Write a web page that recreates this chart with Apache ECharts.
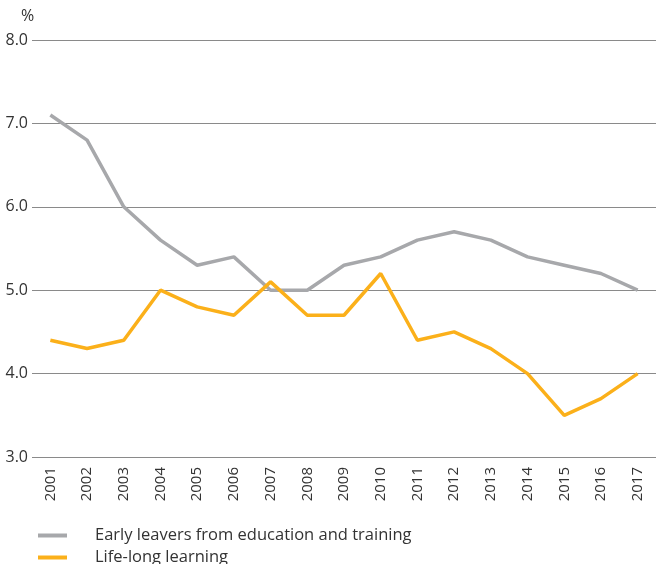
<!DOCTYPE html>
<html>
<head>
<meta charset="utf-8">
<script src="https://cdn.jsdelivr.net/npm/echarts@6/dist/echarts.min.js"></script>
<style>
  html, body { margin: 0; padding: 0; background: #fff; }
  #chart { width: 656px; height: 564px; }
</style>
</head>
<body>
<div id="chart"></div>
<script>
var years = ['2001', '2002', '2003', '2004', '2005', '2006', '2007', '2008', '2009',
             '2010', '2011', '2012', '2013', '2014', '2015', '2016', '2017'];
var earlyLeavers = [7.1, 6.8, 6.0, 5.6, 5.3, 5.4, 5.0, 5.0, 5.3, 5.4, 5.6, 5.7, 5.6, 5.4, 5.3, 5.2, 5.0];
var lifeLong = [4.4, 4.3, 4.4, 5.0, 4.8, 4.7, 5.1, 4.7, 4.7, 5.2, 4.4, 4.5, 4.3, 4.0, 3.5, 3.7, 4.0];
var seriesNames = ['Early leavers from education and training', 'Life-long learning'];

var fontName = '"Open Sans", "Noto Sans", sans-serif';
var myChart = echarts.init(document.getElementById('chart'));

var option = {
    animation: false,
    textStyle: { fontFamily: fontName },
    grid: { left: 32, right: 0, top: 40, bottom: 107 },
    legend: {
        orient: 'vertical',
        left: 33,
        bottom: -7,
        itemWidth: 29,
        itemHeight: 4,
        itemGap: 5,
        icon: 'rect',
        textStyle: { fontSize: 16.5, color: '#333', padding: [0, 0, 0, 23], fontFamily: fontName },
        data: seriesNames
    },
    graphic: [{
        type: 'text',
        left: 21,
        top: 8,
        style: { text: '%', fontSize: 16, fill: '#333', fontFamily: fontName }
    }],
    xAxis: {
        type: 'category',
        data: years,
        boundaryGap: true,
        axisLine: { show: false },
        axisTick: { show: false },
        axisLabel: { rotate: 90, fontSize: 15, color: '#333', margin: 10 }
    },
    yAxis: {
        type: 'value',
        min: 3,
        max: 8,
        interval: 1,
        axisLine: { show: false },
        axisTick: { show: false },
        axisLabel: {
            fontSize: 16, color: '#333', margin: 4,
            formatter: function (v) { return v.toFixed(1); }
        },
        splitLine: { lineStyle: { color: '#8a8a8a', width: 1 } }
    },
    series: [{
        name: seriesNames[0],
        type: 'line',
        data: earlyLeavers,
        symbol: 'none',
        color: '#a7a8ab',
        lineStyle: { width: 3.5, color: '#a7a8ab' }
    }, {
        name: seriesNames[1],
        type: 'line',
        data: lifeLong,
        symbol: 'none',
        color: '#fbb01a',
        lineStyle: { width: 3.5, color: '#fbb01a' }
    }]
};
myChart.setOption(option);
</script>
</body>
</html>
